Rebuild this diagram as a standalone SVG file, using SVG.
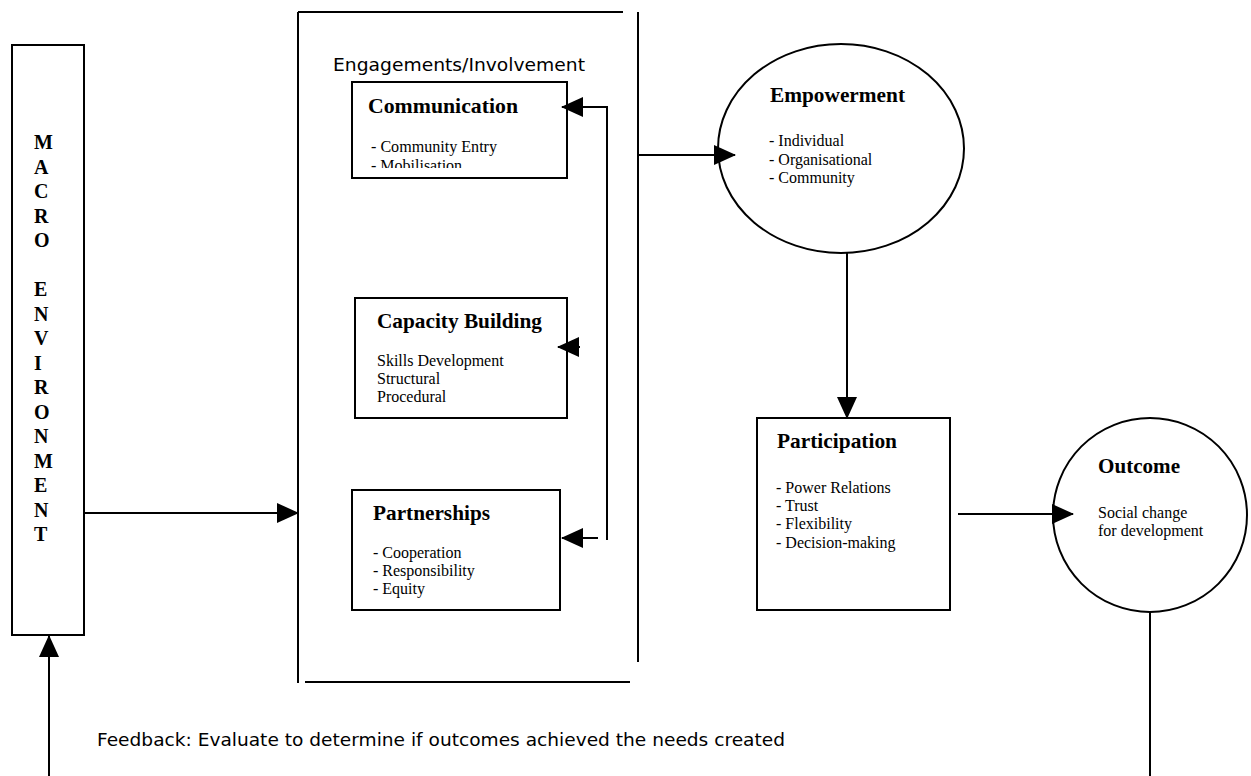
<svg xmlns="http://www.w3.org/2000/svg" width="1251" height="776" viewBox="0 0 1251 776">
<style>
.box{fill:#fff;stroke:#000;stroke-width:2}
.ln{fill:none;stroke:#000;stroke-width:2}
.title{font-family:"Liberation Serif","Times New Roman",serif;font-weight:bold;font-size:21px;fill:#000}
.item{font-family:"Liberation Serif","Times New Roman",serif;font-size:16px;fill:#000}
.sans{font-family:"DejaVu Sans",Verdana,sans-serif;font-size:17px;fill:#000}
.vert{font-family:"Liberation Serif","Times New Roman",serif;font-weight:bold;font-size:20px;fill:#000}
</style>
<defs>
<marker id="ah" markerUnits="userSpaceOnUse" markerWidth="22" markerHeight="20" refX="21" refY="10" orient="auto">
<path d="M0,0 L22,10 L0,20 z" fill="#000"/>
</marker>
<clipPath id="commClip"><rect x="352" y="82" width="215" height="86"/></clipPath>
</defs>
<rect width="1251" height="776" fill="#fff"/>

<g id="macro">
<rect class="box" x="12" y="45" width="72" height="590"/>
<text class="vert" x="34" y="149">M<tspan x="34" dy="24.5">A</tspan><tspan x="34" dy="24.5">C</tspan><tspan x="34" dy="24.5">R</tspan><tspan x="34" dy="24.5">O</tspan><tspan x="34" dy="49">E</tspan><tspan x="34" dy="24.5">N</tspan><tspan x="34" dy="24.5">V</tspan><tspan x="34" dy="24.5">I</tspan><tspan x="34" dy="24.5">R</tspan><tspan x="34" dy="24.5">O</tspan><tspan x="34" dy="24.5">N</tspan><tspan x="34" dy="24.5">M</tspan><tspan x="34" dy="24.5">E</tspan><tspan x="34" dy="24.5">N</tspan><tspan x="34" dy="24.5">T</tspan></text>
</g>

<g id="engagements">
<path class="ln" d="M298,12 L623,12 M298,12 L298,683 M305,682 L630,682 M638,12 L638,662"/>
<text class="sans" x="333" y="71" textLength="252" lengthAdjust="spacingAndGlyphs">Engagements/Involvement</text>
</g>

<g id="communication">
<rect class="box" x="352" y="82" width="215" height="96"/>
<text class="title" x="368" y="113" textLength="150" lengthAdjust="spacingAndGlyphs">Communication</text>
<text class="item" x="371" y="152" textLength="126" lengthAdjust="spacingAndGlyphs">- Community Entry</text>
<text class="item" x="371" y="171" clip-path="url(#commClip)">- Mobilisation</text>
</g>

<g id="capacity">
<rect class="box" x="355" y="298" width="212" height="120"/>
<text class="title" x="377" y="328" textLength="165" lengthAdjust="spacingAndGlyphs">Capacity Building</text>
<text class="item" x="377" y="366">Skills Development</text>
<text class="item" x="377" y="384">Structural</text>
<text class="item" x="377" y="402">Procedural</text>
</g>

<g id="partnerships">
<rect class="box" x="352" y="490" width="208" height="120"/>
<text class="title" x="373" y="520" textLength="117" lengthAdjust="spacingAndGlyphs">Partnerships</text>
<text class="item" x="373" y="558">- Cooperation</text>
<text class="item" x="373" y="576">- Responsibility</text>
<text class="item" x="373" y="594">- Equity</text>
</g>

<g id="empowerment">
<ellipse class="box" cx="841" cy="148.5" rx="123" ry="104.5"/>
<text class="title" x="770" y="102" textLength="135" lengthAdjust="spacingAndGlyphs">Empowerment</text>
<text class="item" x="769" y="146">- Individual</text>
<text class="item" x="769" y="164.5">- Organisational</text>
<text class="item" x="769" y="183">- Community</text>
</g>

<g id="participation">
<rect class="box" x="757" y="418" width="193" height="192"/>
<text class="title" x="777" y="448" textLength="120" lengthAdjust="spacingAndGlyphs">Participation</text>
<text class="item" x="776" y="493">- Power Relations</text>
<text class="item" x="776" y="511">- Trust</text>
<text class="item" x="776" y="529">- Flexibility</text>
<text class="item" x="776" y="548">- Decision-making</text>
</g>

<g id="outcome">
<circle class="box" cx="1150" cy="515" r="97"/>
<text class="title" x="1098" y="473" textLength="82" lengthAdjust="spacingAndGlyphs">Outcome</text>
<text class="item" x="1098" y="518">Social change</text>
<text class="item" x="1098" y="536">for development</text>
</g>

<g id="connectors">
<path class="ln" d="M85,513 L298,513" marker-end="url(#ah)"/>
<path class="ln" d="M607,107 L562,107" marker-end="url(#ah)"/>
<path class="ln" d="M607,106 L607,540"/>
<path class="ln" d="M580,347 L558,347" marker-end="url(#ah)"/>
<path class="ln" d="M598,538 L562,538" marker-end="url(#ah)"/>
<path class="ln" d="M639,155 L735,155" marker-end="url(#ah)"/>
<path class="ln" d="M847,253 L847,418" marker-end="url(#ah)"/>
<path class="ln" d="M958,514 L1073,514" marker-end="url(#ah)"/>
<path class="ln" d="M1150,612 L1150,776"/>
<path class="ln" d="M49,776 L49,636" marker-end="url(#ah)"/>
</g>

<g id="feedback">
<text class="sans" x="97" y="746" textLength="688" lengthAdjust="spacingAndGlyphs">Feedback: Evaluate to determine if outcomes achieved the needs created</text>
</g>
</svg>
